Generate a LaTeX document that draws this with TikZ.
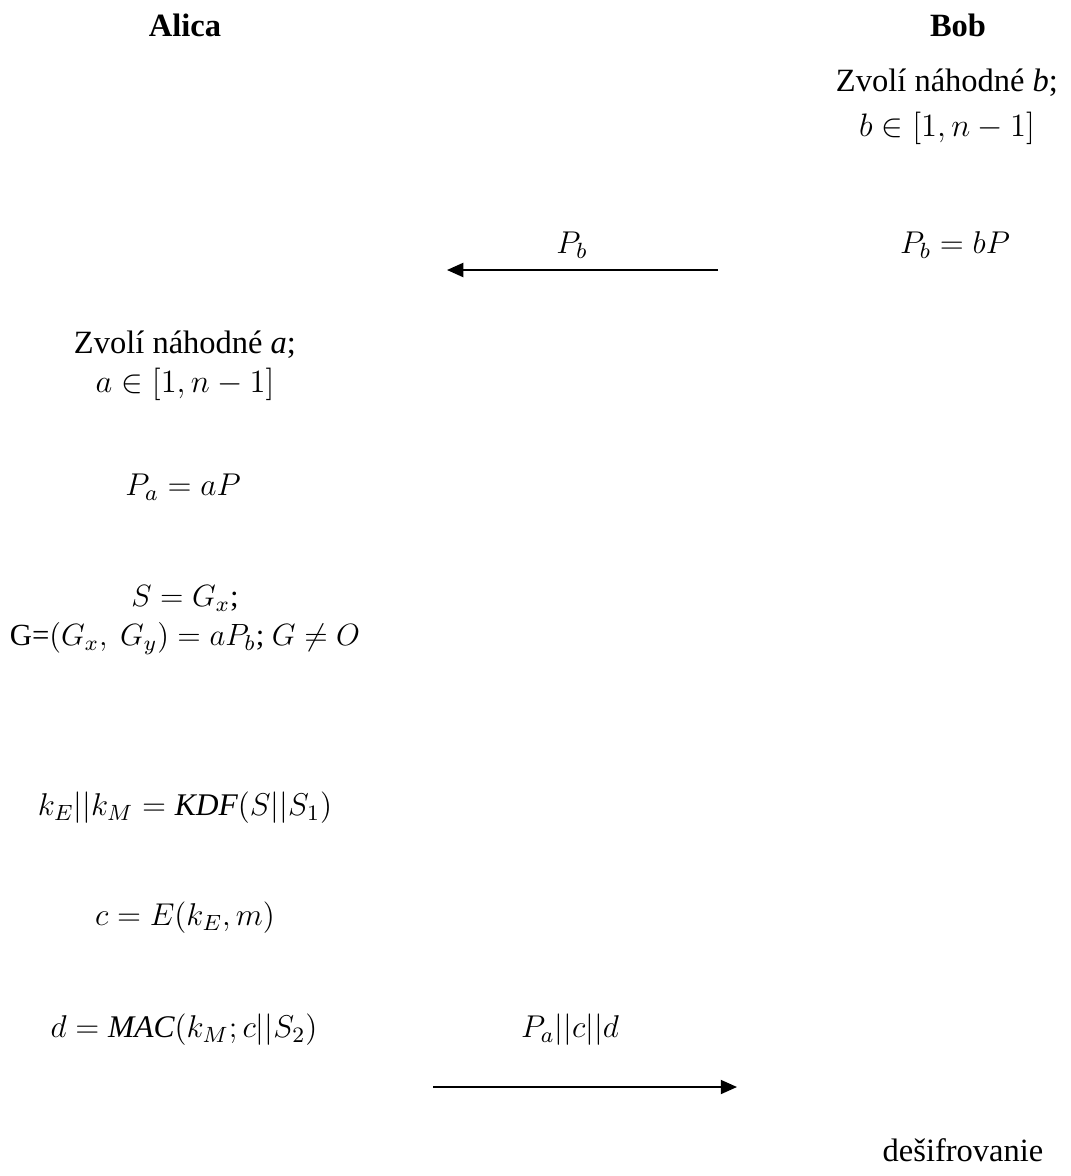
\RequirePackage{fix-cm}
\documentclass[tikz,border=0pt]{standalone}
\usepackage{fontspec}
\setmainfont{Liberation Serif}
\usetikzlibrary{arrows.meta}
\begin{document}
\begin{tikzpicture}[x=0.4pt,y=-0.4pt,
  lbl/.style={inner sep=0pt, align=center, font=\fontsize{13}{15.5}\selectfont},
  mth/.style={lbl, font=\fontsize{12.6}{15.5}\selectfont},
  hdr/.style={lbl, font=\fontsize{13}{15.5}\selectfont\bfseries},
  msg/.style={line width=0.8pt, -{Triangle[length=6.5pt,width=5.6pt]}}]
\useasboundingbox (0,0) rectangle (1071,1176);
\node[hdr] (alica) at (185,25) {Alica};
\node[hdr] (bob) at (958,25) {Bob};
\node[lbl] (bchoose) at (947,107) {Zvolí náhodné \textit{b};\\[2.5pt] $b\in[1,n-1]$};
\node[mth] (pb) at (955,245) {$P_b = bP$};
\coordinate (a1s) at (718,270);
\coordinate (a1e) at (447,270);
\draw[msg] (a1s) -- (a1e);
\node[mth] (pblbl) at (572,245) {$P_b$};
\node[lbl] (achoose) at (185,366) {Zvolí náhodné \textit{a};\\ $a\in[1,n-1]$};
\node[mth] (pa) at (183,487) {$P_a = aP$};
\node[lbl, font=\fontsize{12.3}{15.5}\selectfont] (sg) at (185,620) {$S = G_x$;\\ G=$(G_x,\ G_y) = aP_b$; $G \neq O$};
\node[mth] (kdf) at (185,808) {$k_E||k_M = \mathit{KDF}(S||S_1)$};
\node[mth] (enc) at (185,918) {$c = E(k_E,m)$};
\node[mth] (mac) at (184,1030) {$d = \mathit{MAC}(k_M;c||S_2)$};
\node[mth] (msglbl) at (570,1030) {$P_a\big|\big|c\big|\big|d$};
\coordinate (a2s) at (433,1087);
\coordinate (a2e) at (737,1087);
\draw[msg] (a2s) -- (a2e);
\node[lbl] (dec) at (963,1150) {dešifrovanie};
\end{tikzpicture}
\end{document}
